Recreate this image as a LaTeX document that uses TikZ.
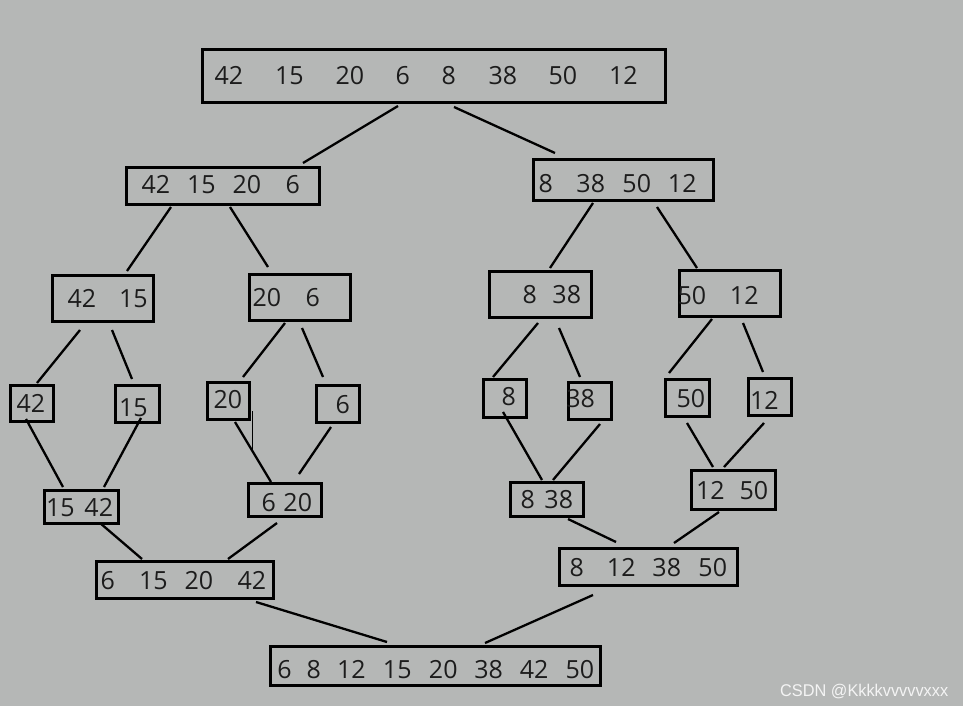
\documentclass[tikz,border=0pt]{standalone}
\usepackage{fontspec}
\newfontfamily\numfont{Open Sans}
\newfontfamily\markfont{Liberation Sans}
\usepackage{tikz}
\definecolor{paper}{RGB}{181,183,182}
\definecolor{ink}{RGB}{28,28,28}

\begin{document}
\begin{tikzpicture}[x=1pt,y=-1pt,
	box/.style={draw, line width=3pt, inner sep=0pt, outer sep=0pt, text height=18pt, text depth=0pt, align=left, text=ink, font={\numfont\fontsize{25}{25}\selectfont}},
	link/.style={line width=2.3pt}]
	\useasboundingbox (0,0) rectangle (963,706);
	\fill[paper] (0,0) rectangle (963,706);

	% split
	\node[box, text width=463.4pt, minimum height=53.4pt] (top) at (434,76) {\hspace*{12.2pt}42\hspace{31.9pt}15\hspace{31.9pt}20\hspace{31.4pt}6\hspace{31.7pt}8\hspace{32.7pt}38\hspace{31.4pt}50\hspace{31.9pt}12};
	\node[box, text width=193.4pt, minimum height=37.4pt, text height=15pt] (l1) at (223,186) {\hspace*{15.2pt}42\hspace{16.9pt}15\hspace{16.9pt}20\hspace{24.4pt}6};
	\node[box, text width=180.4pt, minimum height=41.4pt, text height=25pt] (r1) at (623.5,180) {\hspace*{5.2pt}8\hspace{23.7pt}38\hspace{17.4pt}50\hspace{16.9pt}12};
	\node[box, text width=101.4pt, minimum height=46.4pt] (l2a) at (103,298.5) {\hspace*{15.2pt}42\hspace{22.9pt}15};
	\node[box, text width=101.4pt, minimum height=46.4pt] (l2b) at (300,297.5) {\hspace*{3.2pt}20\hspace{24.4pt}6};
	\node[box, text width=102.4pt, minimum height=46.4pt] (r2a) at (540.5,294.5) {\hspace*{33.2pt}8\hspace{15.7pt}38};
	\node[box, text width=101.4pt, minimum height=46.4pt, text height=22pt] (r2b) at (730,293.5) {\hspace*{-1.8pt}50\hspace{23.9pt}12};

	% leaves
	\node[box, text width=43.4pt, minimum height=36.4pt] (leaf42) at (32,403.5) {\hspace*{6.2pt}42};
	\node[box, text width=44.4pt, minimum height=37.4pt, text height=24pt] (leaf15) at (137.5,404) {\hspace*{3.7pt}15};
	\node[box, text width=42.4pt, minimum height=37.4pt, text height=15pt] (leaf20) at (228.5,401) {\hspace*{6.2pt}20};
	\node[box, text width=43.4pt, minimum height=37.4pt] (leaf6) at (338,404) {\hspace*{19.2pt}6};
	\node[box, text width=43.4pt, minimum height=38.4pt, text height=13pt] (leaf8) at (505,398.5) {\hspace*{18.2pt}8};
	\node[box, text width=43.4pt, minimum height=37.4pt, text height=12pt] (leaf38) at (590,401) {\hspace*{-2pt}38};
	\node[box, text width=44.4pt, minimum height=37.4pt] (leaf50) at (687.5,398) {\hspace*{11.2pt}50};
	\node[box, text width=43.4pt, minimum height=37.4pt, text height=24pt] (leaf12) at (770,397) {\hspace*{1.7pt}12};

	% merge
	\node[box, text width=74.4pt, minimum height=33.4pt] (m1542) at (81.5,507) {\hspace*{1.7pt}15\hspace{9.9pt}42};
	\node[box, text width=73.4pt, minimum height=33.4pt, text height=23pt] (m620) at (285,500) {\hspace*{13.2pt}6\hspace{7.7pt}20};
	\node[box, text width=73.4pt, minimum height=34.4pt] (m838) at (547,499.5) {\hspace*{10.2pt}8\hspace{9.7pt}38};
	\node[box, text width=84.4pt, minimum height=39.4pt] (m1250) at (733.5,490) {\hspace*{4.7pt}12\hspace{14.9pt}50};
	\node[box, text width=177.4pt, minimum height=37.4pt] (m4l) at (185,580) {\hspace*{4.2pt}6\hspace{24.2pt}15\hspace{16.9pt}20\hspace{24.4pt}42};
	\node[box, text width=178.4pt, minimum height=37.4pt] (m4r) at (648.5,567) {\hspace*{10.2pt}8\hspace{23.2pt}12\hspace{16.9pt}38\hspace{17.4pt}50};
	\node[box, text width=330.4pt, minimum height=39.4pt, text height=24pt] (bot) at (435.5,666) {\hspace*{7pt}6\hspace{15.1pt}8\hspace{16.2pt}12\hspace{17.2pt}15\hspace{17.4pt}20\hspace{16.8pt}38\hspace{16.9pt}42\hspace{17.2pt}50};

	% links down
	\draw[link] ([xshift=-36pt,yshift=-3.3pt]top.south) -- ([xshift=80pt,yshift=4.3pt]l1.north);
	\draw[link] ([xshift=20pt,yshift=-4.3pt]top.south) -- ([xshift=-68.5pt,yshift=6.3pt]r1.north);
	\draw[link] ([xshift=-52pt,yshift=-2.3pt]l1.south) -- ([xshift=24pt,yshift=4.3pt]l2a.north);
	\draw[link] ([xshift=7pt,yshift=-2.3pt]l1.south) -- ([xshift=-32pt,yshift=7.3pt]l2b.north);
	\draw[link] ([xshift=-30.5pt,yshift=-2.3pt]r1.south) -- ([xshift=9.5pt,yshift=3.3pt]r2a.north);
	\draw[link] ([xshift=33.5pt,yshift=-6.3pt]r1.south) -- ([xshift=-33pt,yshift=2.3pt]r2b.north);
	\draw[link] ([xshift=-23pt,yshift=-8.3pt]l2a.south) -- ([xshift=5pt,yshift=2.3pt]leaf42.north);
	\draw[link] ([xshift=9pt,yshift=-8.3pt]l2a.south) -- ([xshift=-5.5pt,yshift=6.3pt]leaf15.north);
	\draw[link] ([xshift=-15pt,yshift=-2.3pt]l2b.south) -- ([xshift=14.5pt,yshift=5.3pt]leaf20.north);
	\draw[link] ([xshift=2pt,yshift=-7.3pt]l2b.south) -- ([xshift=-15pt,yshift=8.3pt]leaf6.north);
	\draw[link] ([xshift=-2.5pt,yshift=-5.3pt]r2a.south) -- ([xshift=-12pt,yshift=2.3pt]leaf8.north);
	\draw[link] ([xshift=18.5pt,yshift=-10.3pt]r2a.south) -- ([xshift=-10pt,yshift=5.3pt]leaf38.north);
	\draw[link] ([xshift=-18pt,yshift=-2.3pt]r2b.south) -- ([xshift=-18.5pt,yshift=6.3pt]leaf50.north);
	\draw[link] ([xshift=13pt,yshift=-6.3pt]r2b.south) -- ([xshift=-7pt,yshift=6.3pt]leaf12.north);

	% links up
	\draw[link] ([xshift=-6pt,yshift=2.7pt]leaf42.south) -- ([xshift=-18.5pt,yshift=3.3pt]m1542.north);
	\draw[link] ([xshift=3.5pt,yshift=4.7pt]leaf15.south) -- ([xshift=22.5pt,yshift=3.3pt]m1542.north);
	\draw[link] ([xshift=6.5pt,yshift=-2.3pt]leaf20.south) -- ([xshift=-14pt,yshift=1.3pt]m620.north);
	\draw[line width=1pt] ([xshift=2.3pt,yshift=-10pt]leaf20.east) -- ++(0,39);
	\draw[link] ([xshift=-7pt,yshift=-4.3pt]leaf6.south) -- ([xshift=14pt,yshift=9.3pt]m620.north);
	\draw[link] ([xshift=-2pt,yshift=5.7pt]leaf8.south) -- ([xshift=-5pt,yshift=2.3pt]m838.north);
	\draw[link] ([xshift=10pt,yshift=-4.3pt]leaf38.south) -- ([xshift=6pt,yshift=2.3pt]m838.north);
	\draw[link] ([xshift=-0.5pt,yshift=-6.3pt]leaf50.south) -- ([xshift=-20.5pt,yshift=3.3pt]m1250.north);
	\draw[link] ([xshift=-6pt,yshift=-7.3pt]leaf12.south) -- ([xshift=-9.5pt,yshift=3.3pt]m1250.north);
	\draw[link] ([xshift=18.5pt,yshift=0.7pt]m1542.south) -- ([xshift=-43pt,yshift=2.3pt]m4l.north);
	\draw[link] ([xshift=-8pt,yshift=-6.3pt]m620.south) -- ([xshift=43pt,yshift=2.3pt]m4l.north);
	\draw[link] ([xshift=21pt,yshift=-2.3pt]m838.south) -- ([xshift=-32.5pt,yshift=6.3pt]m4r.north);
	\draw[link] ([xshift=-14.5pt,yshift=-2.3pt]m1250.south) -- ([xshift=25.5pt,yshift=5.3pt]m4r.north);
	\draw[link] ([xshift=71pt,yshift=-3.3pt]m4l.south) -- ([xshift=-48.5pt,yshift=4.3pt]bot.north);
	\draw[link] ([xshift=-55.5pt,yshift=-9.3pt]m4r.south) -- ([xshift=49.5pt,yshift=3.3pt]bot.north);

	\node[font={\markfont\fontsize{17}{17}\selectfont}, text=white!85!paper, anchor=base west, inner sep=0pt, xscale=0.96] (mark) at (780,696) {CSDN @Kkkkvvvvvxxx};
\end{tikzpicture}
\end{document}
